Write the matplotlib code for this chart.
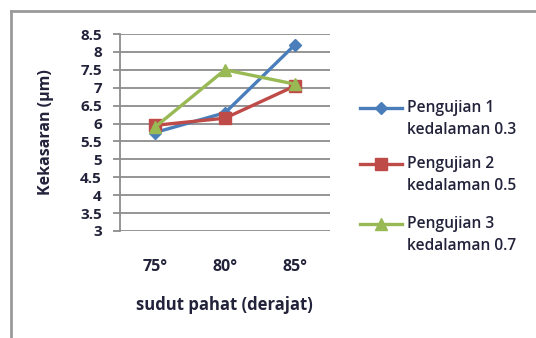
import matplotlib
matplotlib.use("Agg")
import matplotlib.pyplot as plt
from matplotlib.lines import Line2D

plt.rcParams['font.family'] = ['Open Sans', 'DejaVu Sans']

categories = ["75°", "80°", "85°"]
series_line1 = ["Pengujian 1", "Pengujian 2", "Pengujian 3"]
series_line2 = ["kedalaman 0.3", "kedalaman 0.5", "kedalaman 0.7"]
pengujian_1 = [5.75, 6.3, 8.2]
pengujian_2 = [5.95, 6.15, 7.05]
pengujian_3 = [5.9, 7.5, 7.1]
y_ticks = [3, 3.5, 4, 4.5, 5, 5.5, 6, 6.5, 7, 7.5, 8, 8.5]
y_tick_labels = ["3", "3.5", "4", "4.5", "5", "5.5", "6", "6.5", "7", "7.5", "8", "8.5"]

colors = ["#4A7EBB", "#BE4B48", "#98B954"]
markers = ["D", "s", "^"]
msizes = [6, 9, 8]
text_color = "#22223a"
grid_color = "#8c8c8c"

W, H = 536, 338
fig = plt.figure(figsize=(W / 100, H / 100), dpi=100)
ax = fig.add_axes([120 / W, 1 - 231 / H, 210 / W, 197 / H])

x = list(range(len(categories)))
for vals, c, m, ms in zip([pengujian_1, pengujian_2, pengujian_3], colors, markers, msizes):
    ax.plot(x, vals, color=c, marker=m, markersize=ms, linewidth=2.4,
            markeredgecolor=c, markerfacecolor=c, zorder=3)

ax.set_xlim(-0.5, 2.5)
ax.set_ylim(3, 8.5)
ax.set_yticks(y_ticks)
ax.set_yticklabels(y_tick_labels)
ax.set_xticks(x)
ax.set_xticklabels(categories)
ax.yaxis.grid(True, color=grid_color, linewidth=1.3, zorder=1)
ax.set_axisbelow(True)
for s in ["top", "right", "bottom"]:
    ax.spines[s].set_visible(False)
ax.spines["left"].set_color(grid_color)
ax.spines["left"].set_linewidth(1.3)
ax.tick_params(axis="y", length=5, width=1.3, color=grid_color, pad=8,
               labelsize=11, labelcolor=text_color)
ax.tick_params(axis="x", length=0, pad=20, labelsize=11.5, labelcolor=text_color)
for lbl in ax.get_yticklabels() + ax.get_xticklabels():
    lbl.set_fontweight("bold")

ax.set_ylabel("Kekasaran (µm)", fontsize=11.5, fontweight="bold", color=text_color)
ax.set_xlabel("sudut pahat (derajat)", fontsize=12, fontweight="bold", color=text_color)
ax.yaxis.set_label_coords((46 - 120) / 210, 0.5)
ax.xaxis.set_label_coords((224 - 120) / 210, (231 - 305) / 197)
ax.xaxis.label.set_va("center")
ax.yaxis.label.set_va("center")

# legend, with each handle level with the first line of its label
legend_y = [108, 164, 224]
for l1, l2, c, m, ms, ly in zip(series_line1, series_line2, colors, markers, msizes, legend_y):
    fy = 1 - ly / H
    fig.add_artist(Line2D([360 / W, 402 / W], [fy, fy], color=c, linewidth=2.4,
                          transform=fig.transFigure))
    fig.add_artist(Line2D([381 / W], [fy], color=c, marker=m, markersize=ms,
                          markeredgecolor=c, transform=fig.transFigure))
    fig.text(407 / W, fy, l1, fontsize=11.2, color=text_color,
             va="center", ha="left", fontweight="semibold")
    fig.text(407 / W, fy - 22 / H, l2, fontsize=11.2, color=text_color,
             va="center", ha="left", fontweight="semibold")

# chart frame
fig.add_artist(Line2D([11 / W, 1], [1 - 11 / H, 1 - 11 / H], color="#9a9a9a",
                      linewidth=2, transform=fig.transFigure))
fig.add_artist(Line2D([11 / W, 11 / W], [0, 1 - 11 / H], color="#9a9a9a",
                      linewidth=2, transform=fig.transFigure))

fig.savefig("out.png", dpi=100)
